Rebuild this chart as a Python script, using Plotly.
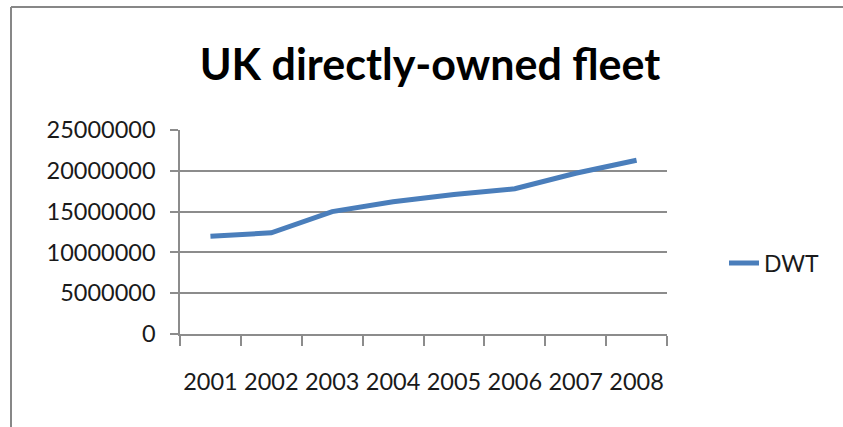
import plotly.graph_objects as go

# UK directly-owned fleet, deadweight tonnage by year
years = ["2001", "2002", "2003", "2004", "2005", "2006", "2007", "2008"]
dwt = [11990000, 12400000, 15000000, 16200000, 17100000, 17800000, 19700000, 21300000]
y_ticks = [0, 5000000, 10000000, 15000000, 20000000, 25000000]
y_tick_labels = ["0", "5000000", "10000000", "15000000", "20000000", "25000000"]

W, H = 843, 427
L, R, T, B = 180, 176, 130, 93
pw = W - L - R
ph = H - T - B

FONT = "Lato"
GRID = "#8c8c8c"

fig = go.Figure()
fig.add_trace(go.Scatter(
    x=years, y=dwt, mode="lines", name="DWT",
    line=dict(color="#4a7ebb", width=5, shape="linear"),
))


def px_x(px):
    return (px - L) / pw


def px_y(py):
    return (H - B - py) / ph


# outer chart frame (top and left edges visible)
fig.add_shape(type="line", xref="paper", yref="paper",
              x0=px_x(11), x1=px_x(W + 5), y0=px_y(7), y1=px_y(7),
              line=dict(color="#878787", width=2))
fig.add_shape(type="line", xref="paper", yref="paper",
              x0=px_x(11), x1=px_x(11), y0=px_y(7), y1=px_y(H + 5),
              line=dict(color="#878787", width=2))

fig.update_layout(
    width=W, height=H,
    margin=dict(l=L, r=R, t=T, b=B, pad=0),
    paper_bgcolor="white", plot_bgcolor="white",
    font=dict(family=FONT, color="#1a1a1a", size=23),
    title=dict(text="UK directly-owned fleet", x=px_x(430), xref="paper",
               xanchor="center", y=1 - 65 / H, yanchor="middle",
               font=dict(family=FONT, size=43, color="black", weight="bold")),
    showlegend=True,
    legend=dict(x=px_x(724), y=px_y(263), xanchor="left", yanchor="middle",
                font=dict(family=FONT, size=23, color="#1a1a1a"),
                bgcolor="rgba(0,0,0,0)", borderwidth=0),
    xaxis=dict(type="category", tickson="boundaries", ticks="outside",
               ticklen=10, tickcolor=GRID, tickwidth=1.5,
               showline=True, linecolor=GRID, linewidth=1.5,
               showgrid=False, tickfont=dict(size=23.5), tickangle=0,
               automargin=False,
               ticklabelstandoff=26, range=[-0.5, 7.5]),
    yaxis=dict(range=[0, 25000000], tickvals=y_ticks, ticktext=y_tick_labels,
               ticks="outside", ticklen=8, tickcolor=GRID, tickwidth=1.5,
               showline=True, linecolor=GRID, linewidth=1.5,
               showgrid=True, gridcolor=GRID, gridwidth=1.5,
               zeroline=False, tickfont=dict(size=23.5), automargin=False,
               ticklabelstandoff=10),
)

fig.write_html("out.html")
